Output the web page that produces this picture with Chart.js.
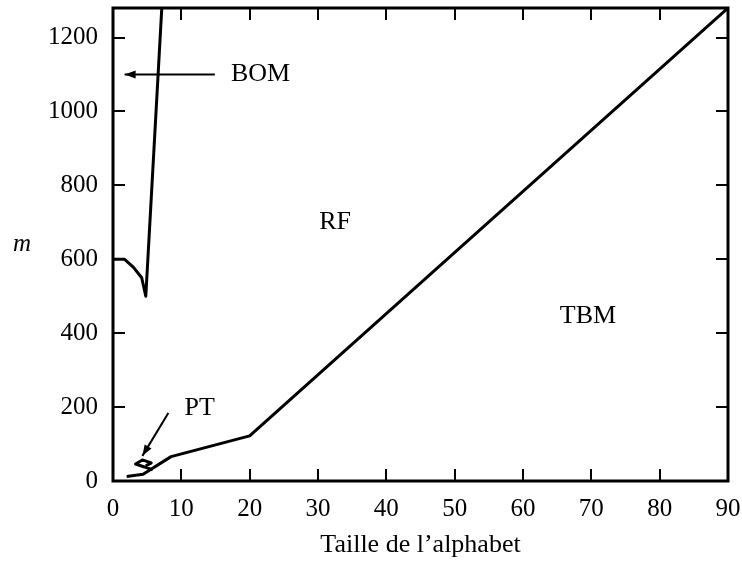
<!DOCTYPE html>
<html>
<head>
<meta charset="utf-8">
<script src="https://cdn.jsdelivr.net/npm/chart.js@4.4.0/dist/chart.umd.min.js"></script>
<style>
  html, body { margin: 0; padding: 0; background: #fff; }
  #wrap { width: 742px; height: 562px; }
</style>
</head>
<body>
<div id="wrap"><canvas id="chart"></canvas></div>
<script>
// boundary curves: x = taille de l'alphabet, y = m
const bomX = [0, 1.7, 3, 4.2, 4.8, 7.2];
const bomY = [600, 600, 578, 550, 500, 1300];
const tbmX = [2, 4.4, 8.5, 20, 90];
const tbmY = [12, 18, 66, 122, 1280];
const ptX = [5.8, 4.6, 3.3, 4.3, 5.6, 4.8];
const ptY = [30, 38, 46, 57, 49, 41];

const xTicks = [0, 10, 20, 30, 40, 50, 60, 70, 80, 90];
const yTicks = [0, 200, 400, 600, 800, 1000, 1200];

// region names (data coords, centred)
const regionNames = ["BOM", "RF", "TBM", "PT"];
const regionX = [21.6, 32.5, 69.5, 12.7];
const regionY = [1100, 700, 447, 198];

// arrows: [fromX, fromY, toX, toY]
const bomArrow = [14.9, 1100, 1.7, 1100];
const ptArrow = [8.1, 184, 4.3, 68];

const FONT = "'Liberation Serif', 'Times New Roman', serif";

function pts(xs, ys) {
  return xs.map((v, i) => ({ x: v, y: ys[i] }));
}

function drawArrow(ctx, x0, y0, x1, y1) {
  ctx.beginPath();
  ctx.moveTo(x0, y0);
  ctx.lineTo(x1, y1);
  ctx.stroke();
  const ang = Math.atan2(y1 - y0, x1 - x0);
  const len = 11, half = 4;
  ctx.beginPath();
  ctx.moveTo(x1, y1);
  ctx.lineTo(x1 - len * Math.cos(ang) + half * Math.sin(ang), y1 - len * Math.sin(ang) - half * Math.cos(ang));
  ctx.lineTo(x1 - len * Math.cos(ang) - half * Math.sin(ang), y1 - len * Math.sin(ang) + half * Math.cos(ang));
  ctx.closePath();
  ctx.fill();
}

// frame, inward ticks, labels, arrows
const decor = {
  id: "decor",
  afterDraw(chart) {
    const { ctx, chartArea: a, scales: { x, y } } = chart;
    ctx.save();
    ctx.strokeStyle = "#000";
    ctx.fillStyle = "#000";

    ctx.lineWidth = 2;
    const tl = 12;
    xTicks.forEach(v => {
      const px = Math.round(x.getPixelForValue(v));
      ctx.beginPath();
      ctx.moveTo(px, a.bottom); ctx.lineTo(px, a.bottom - tl);
      ctx.moveTo(px, a.top); ctx.lineTo(px, a.top + tl);
      ctx.stroke();
    });
    yTicks.forEach(v => {
      const py = Math.round(y.getPixelForValue(v));
      ctx.beginPath();
      ctx.moveTo(a.left, py); ctx.lineTo(a.left + tl, py);
      ctx.moveTo(a.right, py); ctx.lineTo(a.right - tl, py);
      ctx.stroke();
    });

    ctx.lineWidth = 3;
    ctx.strokeRect(a.left, a.top, a.width, a.height);

    // arrows
    ctx.lineWidth = 2;
    [bomArrow, ptArrow].forEach(ar => {
      drawArrow(ctx, x.getPixelForValue(ar[0]), y.getPixelForValue(ar[1]),
        x.getPixelForValue(ar[2]), y.getPixelForValue(ar[3]));
    });

    // region names
    ctx.font = "26px " + FONT;
    ctx.textAlign = "center";
    ctx.textBaseline = "middle";
    regionNames.forEach((t, i) => {
      ctx.fillText(t, x.getPixelForValue(regionX[i]), y.getPixelForValue(regionY[i]));
    });

    // y axis name
    ctx.font = "italic 25px " + FONT;
    ctx.fillText("m", 22, (a.top + a.bottom) / 2);
    ctx.restore();
  }
};

const lineStyle = {
  borderColor: "#000",
  borderWidth: 3,
  borderJoinStyle: "round",
  pointRadius: 0,
  tension: 0,
  fill: false
};

new Chart(document.getElementById("chart"), {
  type: "line",
  data: {
    datasets: [
      { label: "BOM", data: pts(bomX, bomY), ...lineStyle },
      { label: "TBM", data: pts(tbmX, tbmY), ...lineStyle },
      { label: "PT", data: pts(ptX, ptY), ...lineStyle }
    ]
  },
  options: {
    responsive: true,
    maintainAspectRatio: false,
    animation: false,
    layout: { padding: { top: 8, right: 14, bottom: 0, left: 0 } },
    plugins: { legend: { display: false }, tooltip: { enabled: false } },
    scales: {
      x: {
        type: "linear",
        min: 0, max: 90,
        grid: { display: false, drawTicks: false },
        border: { display: false },
        afterBuildTicks: s => { s.ticks = xTicks.map(v => ({ value: v })); },
        afterFit: s => { s.height = 81; s.paddingLeft = 0; s.paddingRight = 0; },
        ticks: {
          color: "#000", padding: 13, maxRotation: 0,
          font: { family: FONT, size: 25 },
          callback: v => String(v)
        },
        title: {
          display: true,
          text: "Taille de l’alphabet",
          color: "#000",
          padding: { top: 0, bottom: 1 },
          font: { family: FONT, size: 26 }
        }
      },
      y: {
        min: 0, max: 1280,
        grid: { display: false, drawTicks: false },
        border: { display: false },
        afterBuildTicks: s => { s.ticks = yTicks.map(v => ({ value: v })); },
        afterFit: s => { s.width = 113; s.paddingTop = 0; s.paddingBottom = 0; },
        ticks: {
          color: "#000", padding: 15,
          font: { family: FONT, size: 25 },
          callback: v => String(v)
        }
      }
    }
  },
  plugins: [decor]
});
</script>
</body>
</html>
